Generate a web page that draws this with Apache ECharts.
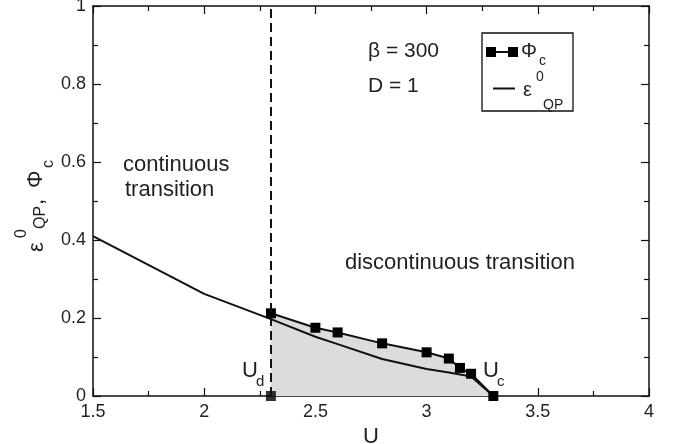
<!DOCTYPE html>
<html>
<head>
<meta charset="utf-8">
<script src="https://cdn.jsdelivr.net/npm/echarts@6/dist/echarts.min.js"></script>
<style>
  html, body { margin: 0; padding: 0; background: #fff; }
  #chart { width: 679px; height: 444px; }
</style>
</head>
<body>
<div id="chart"></div>
<script>
// U values of the Phi_c points and the epsilon_QP curve
var uPhi = [2.3, 2.5, 2.6, 2.8, 3.0, 3.1, 3.15, 3.2, 3.3];
var phiC = [0.212, 0.175, 0.163, 0.135, 0.112, 0.096, 0.072, 0.057, 0];
var uEps = [1.5, 2.0, 2.3, 2.5, 2.6, 2.8, 3.0, 3.1, 3.2, 3.3];
var epsQP = [0.41, 0.262, 0.197, 0.152, 0.133, 0.095, 0.069, 0.060, 0.050, 0];
var uD = 2.3;
var xTicks = [1.5, 4, 0.5];
var yTicks = [0, 1, 0.2];

var FONT = "Liberation Sans, Arial, Helvetica, sans-serif";
var INK = "#231f20";

function pairs(xs, ys) {
  return xs.map(function (x, i) { return [x, ys[i]]; });
}

// small helper for text pieces (sub/superscripts are placed by hand)
function txt(s, x, y, size, rot) {
  return {
    type: "text",
    x: x,
    y: y,
    rotation: rot || 0,
    z: 100,
    style: {
      text: s,
      x: 0,
      y: 0,
      fill: INK,
      font: size + "px " + FONT,
      textAlign: "left",
      align: "left",
      textVerticalAlign: "middle",
      verticalAlign: "middle",
    },
  };
}

var R = Math.PI / 2;

function init_chart(container) {
  var chartDom = document.getElementById(container);
  var myChart = echarts.init(chartDom);

  var axisCommon = {
    type: "value",
    axisLine: { show: true, onZero: false, lineStyle: { color: "#111", width: 1.5 } },
    axisTick: { show: true, inside: true, length: 8, lineStyle: { color: "#111", width: 1.2 } },
    minorTick: { show: true, splitNumber: 2, length: 5, lineStyle: { color: "#111", width: 1.2 } },
    splitLine: { show: false },
    minorSplitLine: { show: false },
  };

  var option = {
    animation: false,
    backgroundColor: "#fff",
    grid: { left: 93, right: 30, top: 6, bottom: 48, containLabel: false, outerBoundsMode: "none" },
    xAxis: [
      Object.assign({}, axisCommon, {
        position: "bottom",
        min: xTicks[0], max: xTicks[1], interval: xTicks[2],
        name: "U",
        nameLocation: "middle",
        nameGap: 22,
        nameTextStyle: { color: INK, fontSize: 22, fontFamily: FONT },
        axisLabel: { color: INK, fontSize: 18, fontFamily: FONT, margin: 7 },
      }),
      Object.assign({}, axisCommon, {
        position: "top",
        min: xTicks[0], max: xTicks[1], interval: xTicks[2],
        axisLabel: { show: false },
      }),
    ],
    yAxis: [
      Object.assign({}, axisCommon, {
        position: "left",
        min: yTicks[0], max: yTicks[1], interval: yTicks[2],
        axisLabel: { color: INK, fontSize: 18, fontFamily: FONT, margin: 7 },
      }),
      Object.assign({}, axisCommon, {
        position: "right",
        min: yTicks[0], max: yTicks[1], interval: yTicks[2],
        axisLabel: { show: false },
      }),
    ],
    series: [
      {
        // grey region under Phi_c, plus the dashed U_d line
        type: "line",
        data: pairs(uPhi, phiC),
        showSymbol: false,
        lineStyle: { width: 0 },
        areaStyle: { color: "#dcdcdc", opacity: 1 },
        z: 1,
        silent: true,
        markLine: {
          silent: true,
          symbol: "none",
          label: { show: false },
          lineStyle: { color: "#111", width: 2, type: [9, 5] },
          data: [{ xAxis: uD }],
        },
      },
      {
        name: "epsQP",
        type: "line",
        data: pairs(uEps, epsQP),
        showSymbol: false,
        lineStyle: { color: "#111", width: 2 },
        z: 2,
      },
      {
        name: "PhiC",
        type: "line",
        data: pairs(uPhi, phiC),
        symbol: "rect",
        symbolSize: 10,
        itemStyle: { color: "#000" },
        lineStyle: { color: "#111", width: 2 },
        z: 3,
      },
      {
        type: "scatter",
        data: [[uD, 0]],
        symbol: "rect",
        symbolSize: 10,
        itemStyle: { color: "#000" },
        z: 4,
      },
    ],
    graphic: [
      // y axis title: eps^0_QP, Phi_c (rotated)
      txt("\u03b5", 37, 252, 22, R),
      txt("0", 22, 238, 16, R),
      txt("QP", 41, 229, 16, R),
      txt(",", 37, 205, 22, R),
      txt("\u03a6", 36, 188, 22, R),
      txt("c", 49, 168, 16, R),

      // annotations
      txt("\u03b2 = 300", 368, 51, 21),
      txt("D = 1", 368, 86, 21),
      txt("continuous", 123, 165, 22),
      txt("transition", 125, 190, 22),
      txt("discontinuous transition", 345, 263, 22),
      txt("U", 242, 371, 22),
      txt("d", 256, 382, 15),
      txt("U", 483, 371, 22),
      txt("c", 497, 382, 15),

      // legend box
      {
        type: "rect",
        z: 100,
        shape: { x: 482, y: 33, width: 91, height: 78 },
        style: { fill: "#fff", stroke: "#111", lineWidth: 1.3 },
      },
      {
        type: "line",
        z: 101,
        shape: { x1: 491, y1: 52, x2: 513, y2: 52 },
        style: { stroke: "#111", lineWidth: 2 },
      },
      {
        type: "rect",
        z: 101,
        shape: { x: 486, y: 47, width: 10, height: 10 },
        style: { fill: "#000" },
      },
      {
        type: "rect",
        z: 101,
        shape: { x: 508, y: 47, width: 10, height: 10 },
        style: { fill: "#000" },
      },
      txt("\u03a6", 521, 51, 20),
      txt("c", 539, 61, 14),
      {
        type: "line",
        z: 101,
        shape: { x1: 493, y1: 88.5, x2: 515, y2: 88.5 },
        style: { stroke: "#111", lineWidth: 2 },
      },
      txt("\u03b5", 523, 90, 20),
      txt("0", 536, 77, 14),
      txt("QP", 543, 105, 14),
    ],
  };

  myChart.setOption(option);
  window.addEventListener("resize", function () {
    myChart.resize();
  });
}

init_chart("chart");
</script>
</body>
</html>
